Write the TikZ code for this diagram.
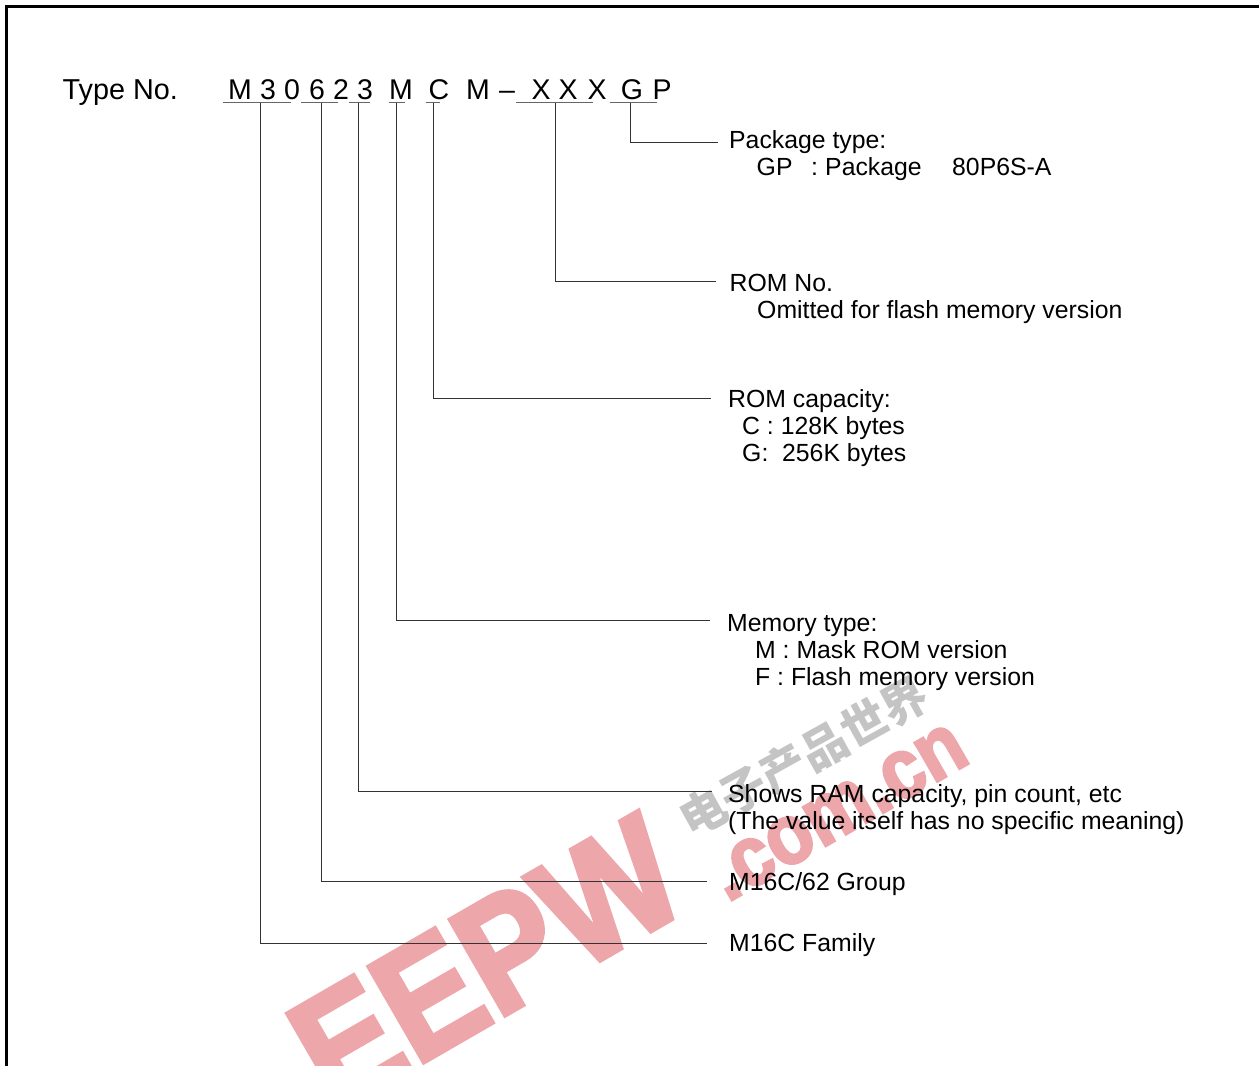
\documentclass[tikz,border=0pt]{standalone}
\usepackage{fontspec}
\setmainfont{Liberation Sans}
\newfontfamily\cjkfont{Noto Sans CJK SC}
\newfontfamily\markfont{Liberation Sans}[BoldFeatures={FakeBold=3,FakeStretch=0.88}]
\usepackage{xcolor}
\definecolor{markpink}{HTML}{EDA6AA}
\definecolor{markgray}{HTML}{C4C4C4}

\begin{document}
\begin{tikzpicture}[
    x=1pt, y=-1pt,
    every node/.style={inner sep=0pt, anchor=base west, font=\fontsize{24.8}{27}\selectfont},
    digit/.style={anchor=base, font=\fontsize{28.5}{30}\selectfont},
    wire/.style={draw=black!80, line width=1pt},
    rule/.style={draw=black!60, line width=1pt},
    mark/.style={anchor=base, text=markpink, rotate=30, font=\fontsize{#1}{#1}\selectfont\markfont\bfseries},
    markcn/.style={anchor=base, text=markgray, rotate=29, font=\fontsize{46}{46}\selectfont\cjkfont\bfseries}
  ]
    \useasboundingbox (0,0) rectangle (1259,1066);

    % watermark
    \begin{scope}
      \clip (0,0) rectangle (1259,1066);
      \node[mark=160] (eepw) at (514,1010) {EEPW};
      \node[mark=85] (dotcom) at (850,832) {.com.cn};
      \node[markcn] (maker) at (812,772) {电子产品世界};
    \end{scope}

    % frame
    \coordinate (frameA) at (6,1066);
    \coordinate (frameB) at (6,6);
    \coordinate (frameC) at (1259,6);
    \draw[line width=3pt] (frameA) -- (frameB) -- (frameC);

    % type number
    \node[font=\fontsize{28.8}{30}\selectfont] (typeno) at (62.5,99) {Type No.};
    \foreach \n/\x/\c in {a/240/M, b/268/3, c/292/0, d/317/6, e/341/2, f/365/3, g/401/M, h/439/C,
                          i/478/M, j/507/--, k/541/X, l/568/X, m/597/X, n/632/G, o/662/P}
      \node[digit] (ch\n) at (\x,99) {\c};

    % underlines
    \foreach \n/\a/\b in {fam/223/291, grp/301/338, ram/349/370, mem/389/405, cap/426/440, rom/516/593, pkg/610/657} {
      \coordinate (\n L) at (\a,102.5);
      \coordinate (\n R) at (\b,102.5);
      \draw[rule] (\n L) -- (\n R);
    }

    % labels
    \node (pkgA) at (729,148) {Package type:};
    \node (pkgB) at (756.5,175) {GP};
    \node (pkgC) at (811,175) {:};
    \node (pkgE) at (825,175) {Package};
    \node (pkgD) at (952,175) {80P6S-A};
    \node (romA) at (729.5,291) {ROM No.};
    \node (romB) at (757,318) {Omitted for flash memory version};
    \node (capA) at (728,407) {ROM capacity:};
    \node (capB) at (742,434) {C : 128K bytes};
    \node (capC) at (742,461) {G:\ \ 256K bytes};
    \node (memA) at (727,631) {Memory type:};
    \node (memB) at (755,658) {M : Mask ROM version};
    \node (memC) at (755,685) {F : Flash memory version};
    \node (ramA) at (728,802) {Shows RAM capacity, pin count, etc};
    \node (ramB) at (728,829) {(The value itself has no specific meaning)};
    \node (grpA) at (729,890) {M16C/62 Group};
    \node (famA) at (729,951) {M16C Family};

    % leaders
    \foreach \n/\x/\y/\e in {pkg/630.5/142.5/718, rom/555.5/281/716, cap/433.5/398/711, mem/396.5/620/710,
                             ram/358.5/791/712, grp/321/881/707, fam/260.5/943/707} {
      \coordinate (\n T) at (\x,102.5);
      \coordinate (\n E) at (\e,\y);
      \draw[wire] (\n T) |- (\n E);
    }
  \end{tikzpicture}
\end{document}
